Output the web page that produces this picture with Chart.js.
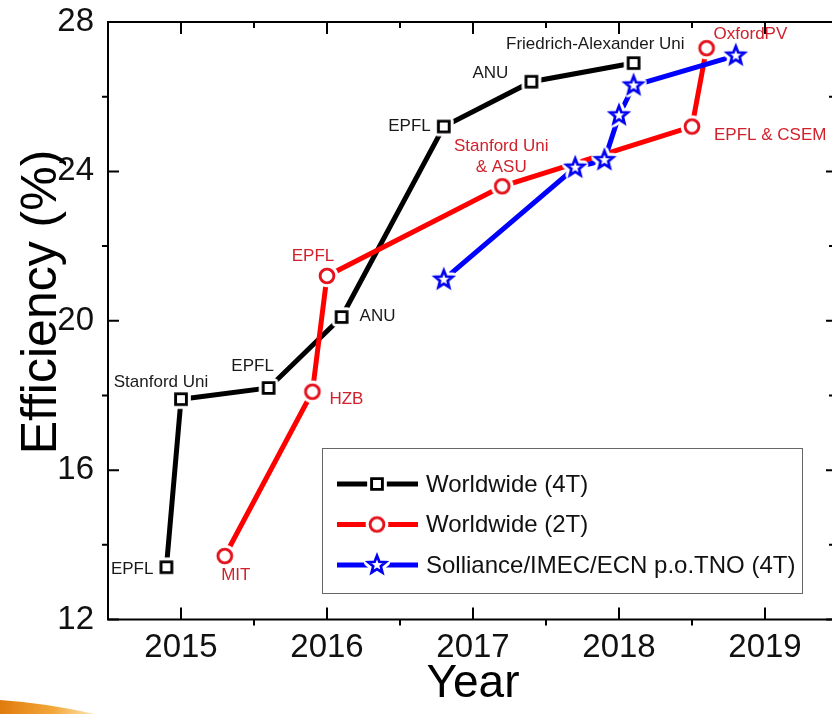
<!DOCTYPE html>
<html>
<head>
<meta charset="utf-8">
<script src="https://cdn.jsdelivr.net/npm/chart.js@4.4.1/dist/chart.umd.min.js"></script>
<style>
  html, body { margin: 0; padding: 0; background: #fff; overflow: hidden; width: 832px; height: 714px; }
  #wrap { position: relative; width: 850px; height: 714px; }
  canvas { display: block; }
</style>
</head>
<body>
<div id="wrap"><canvas id="chart" width="850" height="714"></canvas></div>
<script>
// Perovskite/silicon tandem cell efficiency records
const years4T = [2014.9, 2015.0, 2015.6, 2016.1, 2016.8, 2017.4, 2018.1];
const eff4T   = [13.4, 17.9, 18.2, 20.1, 25.2, 26.4, 26.9];
const labels4T = ['EPFL', 'Stanford Uni', 'EPFL', 'ANU', 'EPFL', 'ANU', 'Friedrich-Alexander Uni'];

const years2T = [2015.3, 2015.9, 2016.0, 2017.2, 2018.5, 2018.6];
const eff2T   = [13.7, 18.1, 21.2, 23.6, 25.2, 27.3];
const labels2T = ['MIT', 'HZB', 'EPFL', ['Stanford Uni', '& ASU'], 'EPFL & CSEM', 'OxfordPV'];

const yearsSol = [2016.8, 2017.7, 2017.9, 2018.0, 2018.1, 2018.8];
const effSol   = [21.1, 24.1, 24.3, 25.5, 26.3, 27.1];

const seriesNames = ['Worldwide (4T)', 'Worldwide (2T)', 'Solliance/IMEC/ECN p.o.TNO (4T)'];

const yearTicks = [2015, 2016, 2017, 2018, 2019];
const effTicks  = [12, 16, 20, 24, 28];

const FONT = '"Liberation Sans", Arial, Helvetica, sans-serif';
const RED_TEXT = '#d0212c';
const BLACK_TEXT = '#1a1a1a';

// Annotation placement next to each point: [dx, dy, align]
const place4T = [[-13, 2, 'right'], [-20, -17, 'center'], [-16, -22, 'center'], [18, -1, 'left'],
                 [-13, 0, 'right'], [-23, -8, 'right'], [51, -19, 'right']];
const place2T = [[11, 19, 'center'], [17, 8, 'left'], [-14, -20, 'center'], [-1, -40, 'center'],
                 [22, 9, 'left'], [7, -14, 'left']];

// Hollow markers with a white halo, so connecting lines stop short of them
function markerCanvas(kind, color) {
  const s = 34, c = s / 2;
  const cv = document.createElement('canvas');
  cv.width = s; cv.height = s;
  const g = cv.getContext('2d');
  const path = () => {
    g.beginPath();
    if (kind === 'square') {
      g.rect(c - 5.4, c - 5.4, 10.8, 10.8);
    } else if (kind === 'circle') {
      g.arc(c, c, 6.9, 0, Math.PI * 2);
    } else {
      for (let i = 0; i < 10; i++) {
        const r = i % 2 ? 4.0 : 9.2;
        const a = -Math.PI / 2 + i * Math.PI / 5;
        g.lineTo(c + r * Math.cos(a), c + r * Math.sin(a));
      }
      g.closePath();
    }
  };
  const lw = kind === 'star' ? 2.7 : 2.9;
  path();
  g.lineJoin = 'round';
  g.strokeStyle = '#fff';
  g.lineWidth = lw + 6;
  g.stroke();
  g.fillStyle = '#fff';
  g.fill();
  path();
  g.lineJoin = 'miter';
  g.strokeStyle = color;
  g.lineWidth = lw;
  g.stroke();
  return cv;
}

const mkSquare = markerCanvas('square', '#000');
const mkCircle = markerCanvas('circle', '#e3121c');
const mkStar   = markerCanvas('star', '#0000f0');

const toPoints = (xs, ys) => xs.map((x, i) => ({ x, y: ys[i] }));

function minorsOf(majors) {
  const out = [];
  for (let i = 0; i < majors.length - 1; i++) out.push((majors[i] + majors[i + 1]) / 2);
  return out;
}

const framePlugin = {
  id: 'frame',
  beforeDatasetsDraw(chart) {
    const { ctx, chartArea: a, scales: { x, y } } = chart;
    ctx.save();
    ctx.strokeStyle = '#000';
    ctx.lineWidth = 2;
    ctx.strokeRect(a.left, a.top, a.right - a.left, a.bottom - a.top);
    ctx.beginPath();
    yearTicks.forEach(v => {
      const p = x.getPixelForValue(v);
      ctx.moveTo(p, a.bottom); ctx.lineTo(p, a.bottom - 12);
      ctx.moveTo(p, a.top); ctx.lineTo(p, a.top + 12);
    });
    minorsOf([2014, ...yearTicks, 2020]).forEach(v => {
      if (v <= x.min || v >= x.max) return;
      const p = x.getPixelForValue(v);
      ctx.moveTo(p, a.bottom); ctx.lineTo(p, a.bottom + 6);
      ctx.moveTo(p, a.top); ctx.lineTo(p, a.top + 6);
    });
    effTicks.forEach(v => {
      const p = y.getPixelForValue(v);
      ctx.moveTo(a.left, p); ctx.lineTo(a.left + 11, p);
      ctx.moveTo(a.right, p); ctx.lineTo(a.right - 12, p);
    });
    minorsOf(effTicks).forEach(v => {
      const p = y.getPixelForValue(v);
      ctx.moveTo(a.left, p); ctx.lineTo(a.left - 6, p);
      ctx.moveTo(a.right, p); ctx.lineTo(a.right - 9, p);
    });
    ctx.stroke();
    ctx.restore();
  },
  afterDatasetsDraw(chart) {
    const { ctx, chartArea: a, scales: { x, y } } = chart;
    ctx.save();

    // point annotations
    ctx.font = `17px ${FONT}`;
    ctx.textBaseline = 'middle';
    const annotate = (xs, ys, texts, place, color) => {
      ctx.fillStyle = color;
      texts.forEach((t, i) => {
        const px = x.getPixelForValue(xs[i]);
        const py = y.getPixelForValue(ys[i]);
        const [dx, dy, align] = place[i];
        ctx.textAlign = align;
        const lines = Array.isArray(t) ? t : [t];
        lines.forEach((ln, k) => ctx.fillText(ln, px + dx, py + dy + k * 21));
      });
    };
    annotate(years4T, eff4T, labels4T, place4T, BLACK_TEXT);
    annotate(years2T, eff2T, labels2T, place2T, RED_TEXT);

    // legend box inside the plot
    const box = { l: 322.5, t: 448.5, w: 480, h: 145 };
    ctx.fillStyle = '#fff';
    ctx.fillRect(box.l, box.t, box.w, box.h);
    ctx.strokeStyle = '#666';
    ctx.lineWidth = 1;
    ctx.strokeRect(box.l, box.t, box.w, box.h);
    const markers = [mkSquare, mkCircle, mkStar];
    chart.data.datasets.forEach((ds, i) => {
      const ly = 484 + i * 40.5;
      ctx.strokeStyle = ds.borderColor;
      ctx.lineWidth = ds.borderWidth;
      ctx.beginPath();
      ctx.moveTo(337, ly); ctx.lineTo(418, ly);
      ctx.stroke();
      const m = markers[i];
      ctx.drawImage(m, 377 - m.width / 2, ly - m.height / 2);
      ctx.fillStyle = '#111';
      ctx.font = `24px ${FONT}`;
      ctx.textAlign = 'left';
      ctx.textBaseline = 'middle';
      ctx.fillText(ds.label, 426, ly + 1);
    });

    // axis titles
    ctx.fillStyle = '#000';
    ctx.textAlign = 'center';
    ctx.textBaseline = 'alphabetic';
    ctx.font = `46px ${FONT}`;
    ctx.fillText('Year', (a.left + a.right) / 2, 697);
    ctx.textBaseline = 'middle';
    ctx.font = `50px ${FONT}`;
    ctx.translate(42, 302);
    ctx.rotate(-Math.PI / 2);
    ctx.fillText('Efficiency (%)', 0, 0);
    ctx.restore();

    // slide accent in the lower-left corner
    ctx.save();
    const grad = ctx.createLinearGradient(0, 700, 90, 714);
    grad.addColorStop(0, '#e07a0c');
    grad.addColorStop(0.6, '#f3a83a');
    grad.addColorStop(1, '#fbe0a8');
    ctx.fillStyle = grad;
    ctx.beginPath();
    ctx.moveTo(0, 700);
    ctx.quadraticCurveTo(45, 703, 95, 714);
    ctx.lineTo(0, 714);
    ctx.closePath();
    ctx.fill();
    ctx.restore();
  }
};

const lineBase = {
  showLine: true,
  borderWidth: 5,
  tension: 0,
  pointRadius: 7,
  pointHoverRadius: 7,
  borderCapStyle: 'butt',
  borderJoinStyle: 'miter',
  fill: false,
  clip: false
};

new Chart(document.getElementById('chart'), {
  type: 'line',
  data: {
    datasets: [
      { ...lineBase, label: seriesNames[0], data: toPoints(years4T, eff4T), borderColor: '#000000', pointStyle: mkSquare, order: 2 },
      { ...lineBase, label: seriesNames[1], data: toPoints(years2T, eff2T), borderColor: '#ff0000', pointStyle: mkCircle, order: 1 },
      { ...lineBase, label: seriesNames[2], data: toPoints(yearsSol, effSol), borderColor: '#0000ff', pointStyle: mkStar, order: 0 }
    ]
  },
  options: {
    responsive: false,
    animation: false,
    events: [],
    layout: { padding: { top: 22, right: 8, left: 0, bottom: 0 } },
    plugins: { legend: { display: false }, tooltip: { enabled: false } },
    scales: {
      x: {
        type: 'linear',
        min: 2014.5,
        max: 2019.5,
        afterFit(s) { s.height = 94.5; s.paddingLeft = 0; s.paddingRight = 0; },
        afterBuildTicks(s) { s.ticks = yearTicks.map(v => ({ value: v })); },
        grid: { display: false, drawTicks: false },
        border: { display: false },
        ticks: {
          padding: 9,
          color: '#111',
          font: { family: FONT, size: 33 },
          maxRotation: 0,
          callback: v => String(v)
        }
      },
      y: {
        type: 'linear',
        min: 12,
        max: 28,
        afterFit(s) { s.width = 108; s.paddingTop = 0; s.paddingBottom = 0; },
        afterBuildTicks(s) { s.ticks = effTicks.map(v => ({ value: v })); },
        grid: { display: false, drawTicks: false },
        border: { display: false },
        ticks: {
          padding: 14,
          color: '#111',
          font: { family: FONT, size: 33 },
          callback: v => String(v)
        }
      }
    }
  },
  plugins: [framePlugin]
});
</script>
</body>
</html>
